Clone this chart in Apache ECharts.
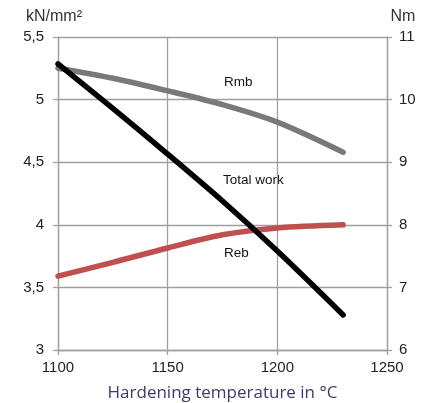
<!DOCTYPE html>
<html>
<head>
<meta charset="utf-8">
<script src="https://cdn.jsdelivr.net/npm/echarts@6/dist/echarts.min.js"></script>
<style>
html,body{margin:0;padding:0;background:#fff;}
#chart{width:425px;height:403px;}
</style>
</head>
<body>
<div id="chart"></div>
<script>
var temperatures = [1100, 1125, 1150, 1175, 1200, 1230];
var rmb = [5.25, 5.17, 5.07, 4.96, 4.82, 4.58];
var reb = [3.59, 3.70, 3.815, 3.92, 3.975, 4.00];
var totalWork = [10.57, 9.86, 9.13, 8.38, 7.58, 6.56];
var leftTicks = {min: 3, max: 5.5, interval: 0.5};
var rightTicks = {min: 6, max: 11, interval: 1};
var xTicks = {min: 1100, max: 1250, interval: 50};
var lineLabels = ['Rmb', 'Total work', 'Reb'];

function pairs(xs, ys){ return xs.map(function(x,i){ return [x, ys[i]]; }); }
function comma(v){ return String(v).replace('.', ','); }
function plain(v){ return String(v); }

var chart = echarts.init(document.getElementById('chart'), null, {renderer:'canvas'});
var axisGray = '#a0a0a0';
var font = "'Liberation Sans', Arial, sans-serif";
var labelFont = "13.5px 'Liberation Sans', Arial, sans-serif";
chart.setOption({
  animation: false,
  grid: {left: 58, right: 38, top: 37, bottom: 53, containLabel: false, outerBoundsMode: 'none'},
  xAxis: {
    type: 'value', min: xTicks.min, max: xTicks.max, interval: xTicks.interval,
    axisLine: {show: true, lineStyle: {color: axisGray, width: 1.3}},
    axisTick: {show: true, length: 5, lineStyle: {color: axisGray, width: 1.3}},
    splitLine: {show: true, lineStyle: {color: axisGray, width: 1.3}},
    axisLabel: {color: '#222', fontSize: 15, fontFamily: font, margin: 10, formatter: plain},
    name: 'Hardening temperature in °C', nameLocation: 'middle', nameGap: 35,
    nameTextStyle: {color: '#3e3a6a', fontSize: 17, fontFamily: "'Open Sans', sans-serif"}
  },
  yAxis: [{
    type: 'value', min: leftTicks.min, max: leftTicks.max, interval: leftTicks.interval,
    position: 'left',
    axisLine: {show: true, lineStyle: {color: axisGray, width: 1.3}},
    axisTick: {show: true, length: 5, lineStyle: {color: axisGray, width: 1.3}},
    splitLine: {show: true, lineStyle: {color: axisGray, width: 1.3}},
    axisLabel: {color: '#222', fontSize: 15, fontFamily: font, margin: 14, formatter: comma},
    name: 'kN/mm²', nameLocation: 'end', nameGap: 12,
    nameTextStyle: {color: '#333', fontSize: 16, fontFamily: font, align: 'center', padding: [0,8,0,0]}
  },{
    type: 'value', min: rightTicks.min, max: rightTicks.max, interval: rightTicks.interval,
    position: 'right',
    axisLine: {show: true, lineStyle: {color: axisGray, width: 1.3}},
    axisTick: {show: true, length: 5, lineStyle: {color: axisGray, width: 1.3}},
    splitLine: {show: false},
    axisLabel: {color: '#222', fontSize: 15, fontFamily: font, margin: 12},
    name: 'Nm', nameLocation: 'end', nameGap: 12,
    nameTextStyle: {color: '#333', fontSize: 16, fontFamily: font, align: 'center', padding: [0,0,0,32]}
  }],
  series: [{
    name: 'Rmb', type: 'line', yAxisIndex: 0, smooth: 0.3, showSymbol: false,
    data: pairs(temperatures, rmb),
    lineStyle: {color: '#77797c', width: 5.5, cap: 'round', join: 'round'}
  },{
    name: 'Reb', type: 'line', yAxisIndex: 0, smooth: 0.3, showSymbol: false,
    data: pairs(temperatures, reb),
    lineStyle: {color: '#c0504d', width: 5.5, cap: 'round', join: 'round'}
  },{
    name: 'Total work', type: 'line', yAxisIndex: 1, smooth: 0.3, showSymbol: false,
    data: pairs(temperatures, totalWork),
    lineStyle: {color: '#000000', width: 5.5, cap: 'round', join: 'round'}
  }],
  graphic: [
    {type: 'text', left: 224, top: 75, style: {text: lineLabels[0], fill: '#111', font: labelFont}},
    {type: 'text', left: 223, top: 173, style: {text: lineLabels[1], fill: '#111', font: labelFont}},
    {type: 'text', left: 224, top: 246, style: {text: lineLabels[2], fill: '#111', font: labelFont}}
  ]
});
</script>
</body>
</html>
